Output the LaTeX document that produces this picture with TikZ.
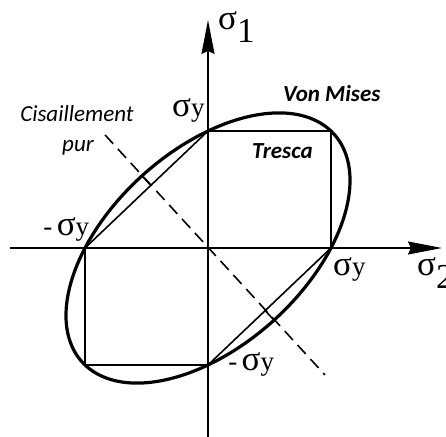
\documentclass[tikz,border=0pt]{standalone}
\usepackage{fontspec}
\setmainfont{Carlito}
\newfontfamily\sigfont{Liberation Serif}
\usetikzlibrary{arrows.meta}

% sigma labels
\newcommand{\sigy}{{\sigfont\fontsize{35pt}{35pt}\selectfont σ\fontsize{27pt}{27pt}\selectfont y}}
\newcommand{\sigi}[1]{{\sigfont\fontsize{35pt}{35pt}\selectfont σ\raisebox{-13pt}{#1}}}
\newcommand{\minus}{{\sigfont\fontsize{27pt}{27pt}\selectfont -\,}}

\tikzset{
  axis/.style={line width=1.6pt,-{Stealth[length=34pt,width=13pt,inset=3pt]}},
  tresca/.style={line width=1.6pt},
  vonmises/.style={line width=3.2pt},
  shear/.style={line width=1.6pt,dash pattern=on 12pt off 7pt},
  lbl/.style={inner sep=0pt,anchor=base west},
  txt/.style={lbl,font=\fontsize{23pt}{23pt}\selectfont\itshape},
  btxt/.style={lbl,font=\fontsize{23pt}{23pt}\selectfont\bfseries\itshape}
}

\begin{document}
\begin{tikzpicture}[x=123pt,y=117pt]
\useasboundingbox (-1.6911,-1.6154) rectangle (1.9350,2.1197);

% Corners of the Tresca hexagon.
\coordinate (O) at (0,0);
\coordinate (R) at (1,0);
\coordinate (T) at (0,1);
\coordinate (L) at (-1,0);
\coordinate (B) at (0,-1);
\coordinate (TR) at (1,1);
\coordinate (BL) at (-1,-1);

% Axes.
\coordinate (xs) at (-1.61,0);
\coordinate (xe) at (1.902,0);
\coordinate (ys) at (0,-1.63);
\coordinate (ye) at (0,1.949);
\draw[axis] (xs) -- (xe);
\draw[axis] (ys) -- (ye);

% Tresca.
\draw[tresca] (T) -- (TR) -- (R) -- (B);
\draw[tresca] (B) -- (BL) -- (L) -- (T);

% Von Mises ellipse.
\draw[vonmises,domain=0:360,samples=150,smooth,variable=\t]
  plot ({cos(\t)-sin(\t)/sqrt(3)},{cos(\t)+sin(\t)/sqrt(3)});

% Pure shear line, with the gap between the two criteria drawn solid.
\coordinate (ss) at (-0.837,0.966);
\coordinate (se) at (0.951,-1.085);
\draw[shear] (ss) -- (se);
\coordinate (g1) at (-0.465,0.535);
\coordinate (g2) at (-0.5366,0.617);
\coordinate (g3) at (0.465,-0.535);
\coordinate (g4) at (0.5366,-0.617);
\draw[tresca] (g1) -- (g2);
\draw[tresca] (g3) -- (g4);

% Labels.
\node[lbl] (s1) at (0.081,1.87) {\sigi{1}};
\node[lbl] (s2) at (1.699,-0.239) {\sigi{2}};
\node[lbl] (syt) at (-0.293,1.120) {\sigy};
\node[lbl] (syl) at (-1.341,0.111) {\minus\sigy};
\node[lbl] (syr) at (1.016,-0.239) {\sigy};
\node[lbl] (syb) at (0.163,-1.043) {\minus\sigy};

\node[btxt] (vm) at (0.610,1.256) {Von Mises};
\node[btxt] (tr) at (0.358,0.769) {Tresca};
\node[txt] (cis) at (-1.528,1.077) {Cisaillement};
\node[txt] (pur) at (-1.187,0.829) {pur};

\end{tikzpicture}
\end{document}
